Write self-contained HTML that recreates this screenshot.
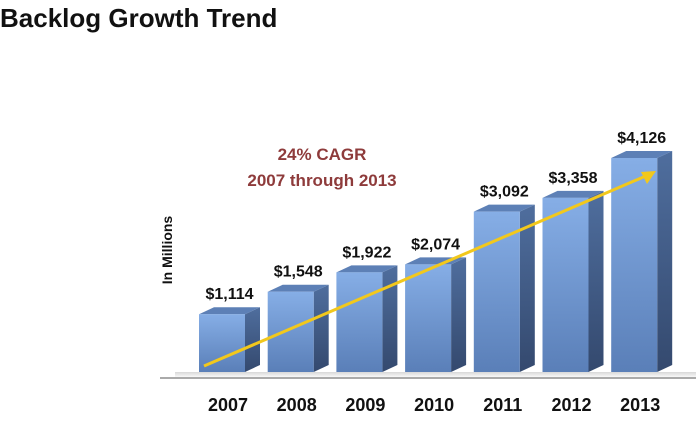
<!DOCTYPE html>
<html><head><meta charset="utf-8"><style>
body{margin:0;background:#fff;width:696px;height:439px;overflow:hidden;font-family:"Liberation Sans",Arial,sans-serif}
</style></head><body>
<svg id="chart" width="696" height="439" xmlns="http://www.w3.org/2000/svg">
<defs>
<linearGradient id="front" x1="0" y1="0" x2="0" y2="1"><stop offset="0" stop-color="#86aee6"/><stop offset="1" stop-color="#5a7fb8"/></linearGradient>
<linearGradient id="side" x1="0" y1="0" x2="0" y2="1"><stop offset="0" stop-color="#4f6e9e"/><stop offset="1" stop-color="#34496e"/></linearGradient>
<linearGradient id="floor" x1="0" y1="0" x2="0" y2="1"><stop offset="0" stop-color="#d8d8d8"/><stop offset="1" stop-color="#fff"/></linearGradient>
</defs>
<text x="0" y="27" font-size="26" font-weight="bold" fill="#111">Backlog Growth Trend</text>
<text transform="translate(172,250) rotate(-90)" text-anchor="middle" font-size="14" font-weight="bold" fill="#111">In Millions</text>
<text x="322" y="160" text-anchor="middle" font-size="17" font-weight="bold" fill="#8e3b3b">24% CAGR</text>
<text x="322" y="186" text-anchor="middle" font-size="17" font-weight="bold" fill="#8e3b3b">2007 through 2013</text>
<rect x="175" y="372" width="521" height="6" fill="url(#floor)"/>
<line x1="160" y1="378" x2="696" y2="378" stroke="#aaa" stroke-width="2"/>
<g id="bars"></g>
<line x1="204" y1="366" x2="648" y2="175" stroke="#f2c81c" stroke-width="3"/>
<polygon points="656,171 641,172 647,184" fill="#f2c81c"/>
</svg>
<script>
const categories=["2007","2008","2009","2010","2011","2012","2013"];
const values=[1114,1548,1922,2074,3092,3358,4126];
const valueLabels=["$1,114","$1,548","$1,922","$2,074","$3,092","$3,358","$4,126"];
const NS="http://www.w3.org/2000/svg";
const g=document.getElementById('bars');
const baseY=372, scale=214/4126, x0=199, pitch=68.7, bw=46, dx=15, dy=7;
function xPos(i){return x0+i*pitch;}
function yPos(v){return baseY-v*scale;}
function mk(tag,attrs){const e=document.createElementNS(NS,tag);for(const k in attrs)e.setAttribute(k,attrs[k]);g.appendChild(e);return e;}
categories.forEach((c,i)=>{
 const x=xPos(i), y=yPos(values[i]);
 const side=mk('polygon',{points:`${x+bw},${y} ${x+bw+dx},${y-dy} ${x+bw+dx},${baseY-dy} ${x+bw},${baseY}`,fill:'url(#side)'});
 
 
 const top=mk('polygon',{points:`${x},${y} ${x+dx},${y-dy} ${x+bw+dx},${y-dy} ${x+bw},${y}`,fill:'#5d80b6'});
 
 
 const r=mk('rect',{x:x,y:y,width:bw,height:baseY-y,fill:'url(#front)'});
 
 
 const t=mk('text',{x:x+(bw+dx)/2,y:y-15,'text-anchor':'middle','font-size':'16','font-weight':'bold',fill:'#111'});
 t.textContent=valueLabels[i];
 
 
 const l=mk('text',{x:x+bw/2+6,y:411,'text-anchor':'middle','font-size':'18','font-weight':'bold',fill:'#111'});
 l.textContent=c;
 
 
});
</script>
</body></html>
